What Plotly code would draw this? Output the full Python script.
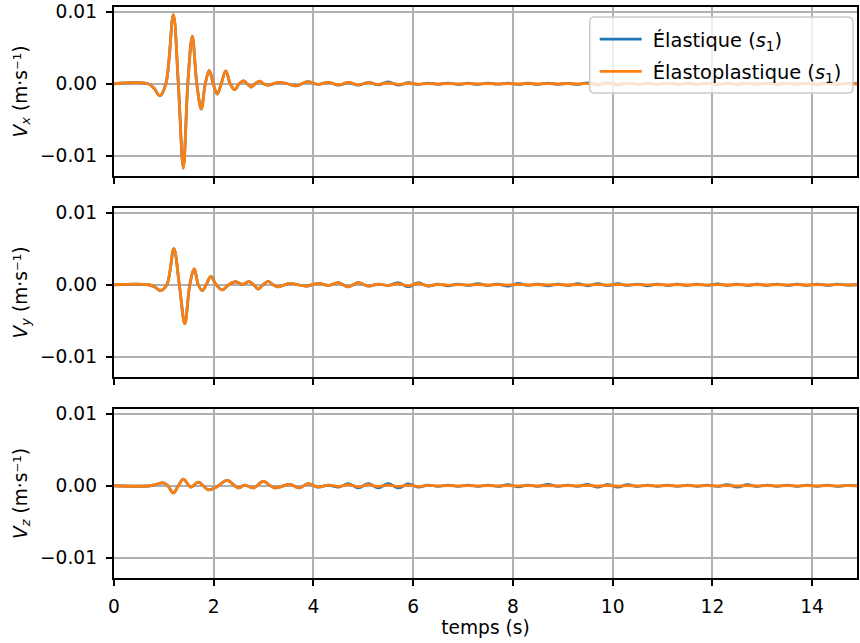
import plotly.graph_objects as go

# ---------------- data ----------------
# Shared early part of each signal (both models coincide)
T_X_HEAD = [0.0, 0.68, 0.80, 0.92, 1.04, 1.19, 1.29, 1.39, 1.48, 1.57, 1.66, 1.75, 1.83, 1.91, 1.99,
            2.07, 2.15, 2.24, 2.33, 2.42, 2.51, 2.60, 2.67, 2.75, 2.83, 2.92, 3.00, 3.09, 3.30, 3.48,
            3.65, 3.89, 4.09]
VX_HEAD = [0.0, 0.0, -0.0006, -0.00167, 0.0, 0.0096, 0.0, -0.0117, 0.0, 0.0066, 0.0, -0.0035, 0.0,
           0.00185, 0.0, -0.00143, 0.0, 0.0018, 0.0, -0.00083, 0.0, 0.0004, 0.0, -0.00046, 0.0,
           0.00037, 0.0, -0.0002, 0.0002, 0.0, -0.0003, 0.0003, -0.0001]

T_Y_HEAD = [0.0, 0.69, 0.82, 0.93, 1.06, 1.20, 1.31, 1.42, 1.52, 1.61, 1.69, 1.77, 1.85, 1.94, 2.05,
            2.17, 2.30, 2.44, 2.57, 2.71, 2.80, 2.89, 2.99, 3.09, 3.19, 3.29, 3.53, 3.85, 4.09]
VY_HEAD = [0.0, 0.0, -0.0003, -0.0008, 0.0, 0.0050, 0.0, -0.0054, 0.0, 0.0022, 0.0, -0.0008, 0.0,
           0.00116, 0.0, -0.0007, 0.0, 0.00042, 0.00005, 0.00042, 0.0, -0.0006, 0.0, 0.00047, 0.0,
           -0.0003, 0.0002, -0.0002, 0.0002]

T_Z_HEAD = [0.0, 0.73, 0.99, 1.08, 1.19, 1.29, 1.39, 1.54, 1.69, 1.89, 2.05, 2.27, 2.49, 2.62, 2.80,
            2.99, 3.22, 3.52, 3.72, 3.89, 4.09]
VZ_HEAD = [0.0, 0.0, 0.0004, 0.0, -0.001, 0.0, 0.00093, -0.0002, 0.0005, -0.00056, -0.0002, 0.00074,
           -0.0003, 0.0001, -0.0003, 0.0006, -0.0003, 0.0002, -0.0003, 0.0003, -0.0002]

# Later part, where the two models differ slightly
T_TAIL = [4.3, 4.5, 4.7, 4.9, 5.1, 5.3, 5.5, 5.7, 5.9, 6.1, 6.3, 6.5, 6.7, 6.9, 7.1, 7.3, 7.5, 7.7,
          7.9, 8.1, 8.3, 8.5, 8.7, 8.9, 9.1, 9.3, 9.5, 9.7, 9.9, 10.1, 10.3, 10.5, 10.7, 10.9, 11.1,
          11.3, 11.5, 11.7, 11.9, 12.1, 12.3, 12.5, 12.7, 12.9, 13.1, 13.3, 13.5, 13.7, 13.9, 14.1,
          14.3, 14.5, 14.7, 14.9]

VX_TAIL_EL = [0.0002, -0.0002, 0.00015, -0.0002, 0.0002, -0.00015, 0.00025, -0.0002, 0.00015, -0.0001,
              0.0001, -0.00008, 0.0001, -0.0001, 0.00008, -0.0001, 0.0001, -0.00005, 0.0001, -0.0001,
              0.00008, -0.0001, 0.0001, -0.00008, 0.00005, -0.0001, 0.00012, -0.00015, 0.00015, -0.00012,
              0.0001, -0.0001, 0.00008, -0.0001, 0.0001, -0.00008, 0.00008, -0.0001, 0.0001, -0.00012,
              0.0001, -0.0001, 0.00008, -0.00008, 0.0001, -0.0001, 0.00008, -0.00008, 0.0001, -0.0001,
              0.00008, -0.00008, 0.00005, 0.0]
VX_TAIL_EP = [0.0002, -0.00015, 0.0002, -0.00015, 0.00015, -0.0001, 0.00012, -0.0001, 0.00008, -0.00005,
              0.00003, -0.00003, 0.00003, -0.00003, 0.00002, -0.00002, 0.00002, -0.00002, 0.00002, -0.00002,
              0.00002, -0.00002, 0.00002, -0.00002, 0.00002, -0.00002, 0.00003, -0.00003, 0.00003, -0.00003,
              0.00002, -0.00002, 0.00002, -0.00002, 0.00002, -0.00002, 0.00002, -0.00002, 0.00002, -0.00002,
              0.00002, -0.00002, 0.00002, -0.00002, 0.00002, -0.00002, 0.00002, -0.00002, 0.00002, -0.00002,
              0.00002, -0.00002, 0.00001, 0.0]

VY_TAIL_EL = [-0.0001, 0.0003, -0.00028, 0.0003, -0.0002, 0.0001, -0.0001, 0.0003, -0.0003, 0.0003,
              -0.0002, 0.0001, -0.00015, 0.0001, -0.0001, 0.00015, -0.0001, 0.0001, -0.0002, 0.0002,
              -0.0001, 0.0001, -0.00015, 0.0001, -0.0001, 0.00015, -0.00015, 0.00015, -0.0001, 0.00015,
              -0.0001, 0.0001, -0.00015, 0.0001, -0.0001, 0.00008, -0.0001, 0.0001, -0.0001, 0.00012,
              -0.0001, 0.0001, -0.0001, 0.00008, -0.00008, 0.0001, -0.0001, 0.00008, -0.00008, 0.0001,
              -0.00008, 0.00008, -0.00005, 0.0]
VY_TAIL_EP = [-0.0001, 0.0003, -0.00028, 0.0003, -0.0002, 0.0001, -0.0001, 0.00015, -0.00015, 0.0002,
              -0.00015, 0.00005, -0.00005, 0.00003, -0.00003, 0.00003, -0.00003, 0.00003, -0.00003, 0.00003,
              -0.00002, 0.00002, -0.00002, 0.00002, -0.00002, 0.00002, -0.00003, 0.00003, -0.00003, 0.00003,
              -0.00002, 0.00002, -0.00002, 0.00002, -0.00002, 0.00002, -0.00002, 0.00002, -0.00002, 0.00002,
              -0.00002, 0.00002, -0.00002, 0.00002, -0.00002, 0.00002, -0.00002, 0.00002, -0.00002, 0.00002,
              -0.00002, 0.00002, -0.00001, 0.0]

VZ_TAIL_EL = [0.0001, -0.0002, 0.0003, -0.0003, 0.0003, -0.0003, 0.0003, -0.0003, 0.00025, -0.0002,
              0.0001, -0.0001, 0.0001, -0.0001, 0.0001, -0.0001, 0.0001, -0.0001, 0.00015, -0.00015,
              0.0001, -0.0001, 0.0002, -0.0001, 0.0001, -0.0001, 0.0002, -0.0002, 0.0002, -0.0002,
              0.00015, -0.0001, 0.0001, -0.0001, 0.0001, -0.0001, 0.0001, -0.0001, 0.0001, -0.0001,
              0.00015, -0.0002, 0.00015, -0.0001, 0.0001, -0.0001, 0.0001, -0.0001, 0.0001, -0.0001,
              0.0001, -0.0001, 0.00005, 0.0]
VZ_TAIL_EP = [0.0001, -0.0001, 0.00015, -0.00015, 0.00015, -0.0001, 0.0001, -0.0001, 0.0001, -0.0001,
              0.00005, -0.00003, 0.00003, -0.00003, 0.00003, -0.00003, 0.00003, -0.00003, 0.00003, -0.00003,
              0.00003, -0.00003, 0.00003, -0.00003, 0.00003, -0.00003, 0.00004, -0.00004, 0.00004, -0.00004,
              0.00003, -0.00003, 0.00003, -0.00003, 0.00003, -0.00003, 0.00003, -0.00003, 0.00003, -0.00003,
              0.00003, -0.00003, 0.00003, -0.00003, 0.00003, -0.00003, 0.00003, -0.00003, 0.00003, -0.00003,
              0.00003, -0.00003, 0.00002, 0.0]

SERIES_NAMES = ["\u00a0Élastique (<i>s</i><sub>1</sub>)", "\u00a0Élastoplastique (<i>s</i><sub>1</sub>)"]
Y_TITLES = ["<i>V<sub>x</sub></i> (m·s⁻¹)", "<i>V<sub>y</sub></i> (m·s⁻¹)", "<i>V<sub>z</sub></i> (m·s⁻¹)"]
Y_TICKVALS = [-0.01, 0.0, 0.01]
Y_TICKTEXT = ["−0.01", "0.00", "0.01"]
X_TICKVALS = [0, 2, 4, 6, 8, 10, 12, 14]
X_TITLE = "temps (s)"

# ---------------- figure ----------------
BLUE = "#1f77b4"
ORANGE = "#ff7f0e"
FONT = "DejaVu Sans"
FS = 18.6
FS_LEG = 19.4

L, R, T, B = 114, 1, 7, 65
W, H = 860, 643
PW = W - L - R
PH = H - T - B


def px_x(px):
    return (px - L) / PW


def px_y(py):
    return (H - B - py) / PH


panels = [
    (T_X_HEAD, VX_HEAD, VX_TAIL_EL, VX_TAIL_EP),
    (T_Y_HEAD, VY_HEAD, VY_TAIL_EL, VY_TAIL_EP),
    (T_Z_HEAD, VZ_HEAD, VZ_TAIL_EL, VZ_TAIL_EP),
]

fig = go.Figure()
for i, (th, vh, vel, vep) in enumerate(panels):
    xa = "x" if i == 0 else f"x{i+1}"
    ya = "y" if i == 0 else f"y{i+1}"
    t = th + T_TAIL
    for k, (name, vals, col) in enumerate(((SERIES_NAMES[0], vh + vel, BLUE),
                                            (SERIES_NAMES[1], vh + vep, ORANGE))):
        fig.add_trace(go.Scatter(
            x=t, y=vals, mode="lines", name=name, legendgroup=f"g{k}",
            line=dict(color=col, width=2.8, shape="spline", smoothing=1.0),
            xaxis=xa, yaxis=ya, showlegend=(i == 0),
        ))

domains = [
    [px_y(176), 1.0],
    [px_y(377), px_y(208)],
    [0.0, px_y(409)],
]

common_axis = dict(
    showline=True, linecolor="black", linewidth=1.5, mirror=True,
    ticks="outside", ticklen=6.5, tickwidth=1.5, tickcolor="black",
    showgrid=True, gridcolor="#b0b0b0", gridwidth=1.5, zeroline=False,
    tickfont=dict(family=FONT, size=FS, color="black"),
)

# legend frame (rounded, semi-transparent), drawn as a shape
x0, x1 = px_x(591), px_x(855)
y0, y1 = px_y(93), px_y(17)
rx, ry = 5 / PW, 5 / PH
frame_path = (f"M {x0+rx},{y0} L {x1-rx},{y0} Q {x1},{y0} {x1},{y0+ry} "
              f"L {x1},{y1-ry} Q {x1},{y1} {x1-rx},{y1} "
              f"L {x0+rx},{y1} Q {x0},{y1} {x0},{y1-ry} "
              f"L {x0},{y0+ry} Q {x0},{y0} {x0+rx},{y0} Z")

layout = dict(
    width=W, height=H,
    margin=dict(l=L, r=R, t=T, b=B),
    paper_bgcolor="white", plot_bgcolor="white",
    font=dict(family=FONT, size=FS, color="black"),
    legend=dict(
        x=px_x(596), y=px_y(20), xanchor="left", yanchor="top",
        bgcolor="rgba(0,0,0,0)", borderwidth=0,
        font=dict(family=FONT, size=FS_LEG, color="black"),
        itemwidth=42, tracegroupgap=4,
    ),
    shapes=[dict(type="path", xref="paper", yref="paper", path=frame_path,
                 fillcolor="rgba(255,255,255,0.8)", line=dict(color="#cccccc", width=1.5),
                 layer="above")],
)

for i in range(3):
    xkey = "xaxis" if i == 0 else f"xaxis{i+1}"
    ykey = "yaxis" if i == 0 else f"yaxis{i+1}"
    ya = "y" if i == 0 else f"y{i+1}"
    xa = "x" if i == 0 else f"x{i+1}"
    xd = dict(common_axis, range=[0, 14.9], tickvals=X_TICKVALS, anchor=ya,
              domain=[0, 1], showticklabels=(i == 2), ticklabelstandoff=4)
    if i > 0:
        xd["matches"] = "x"
    if i == 2:
        xd["title"] = dict(text=X_TITLE, font=dict(family=FONT, size=FS), standoff=4)
    yd = dict(common_axis, range=[-0.0128, 0.01065], tickvals=Y_TICKVALS, ticktext=Y_TICKTEXT,
              anchor=xa, domain=domains[i], ticklabelstandoff=5,
              title=dict(text=Y_TITLES[i], font=dict(family=FONT, size=FS), standoff=8))
    layout[xkey] = xd
    layout[ykey] = yd

fig.update_layout(**layout)
fig.write_html("out.html", config={"displayModeBar": False},
               post_script="document.body.style.margin='0';document.body.style.overflow='hidden';")
